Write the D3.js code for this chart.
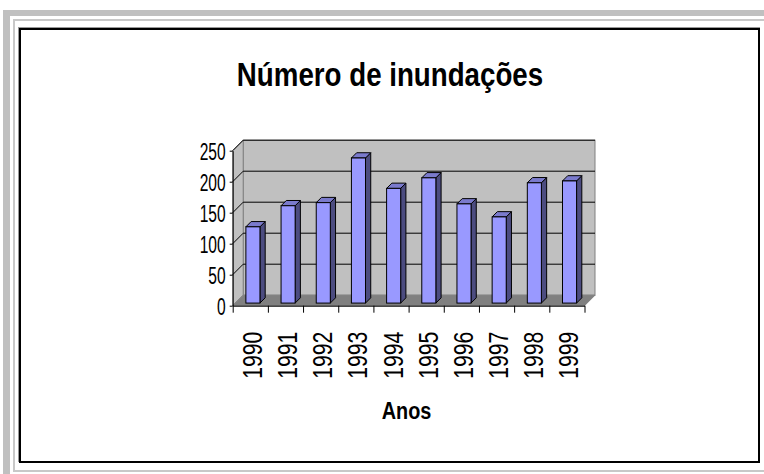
<!DOCTYPE html>
<html>
<head>
<meta charset="utf-8">
<script src="https://cdn.jsdelivr.net/npm/d3@7"></script>
<style>
  body { margin: 0; background: #fff; }
  text { font-family: "Liberation Sans", Arial, sans-serif; fill: #000; }
</style>
</head>
<body>
<svg id="chart"></svg>
<script>
// Data
const years = ["1990", "1991", "1992", "1993", "1994", "1995", "1996", "1997", "1998", "1999"];
const floods = [123, 157, 162, 234, 185, 202, 160, 139, 194, 197];
const yTicks = [0, 50, 100, 150, 200, 250];

const W = 764, H = 474;
const svg = d3.select("#chart").attr("width", W).attr("height", H);

// Page frame
svg.append("rect").attr("x", 3).attr("y", 10).attr("width", 7).attr("height", H - 10).attr("fill", "#c0c0c0");
svg.append("rect").attr("x", 3).attr("y", 10).attr("width", W - 3).attr("height", 6).attr("fill", "#c0c0c0");
svg.append("rect").attr("x", 13).attr("y", 19).attr("width", 2).attr("height", 453).attr("fill", "#c8c8c8");
svg.append("rect").attr("x", 13).attr("y", 19).attr("width", W - 13).attr("height", 2).attr("fill", "#c8c8c8");
svg.append("rect").attr("x", 13).attr("y", 470).attr("width", W - 13).attr("height", 2).attr("fill", "#c8c8c8");
svg.append("rect").attr("x", 18.5).attr("y", 27.5).attr("width", 741).attr("height", 434)
    .attr("fill", "none").attr("stroke", "#999").attr("stroke-width", 1);
svg.append("rect").attr("x", 20).attr("y", 29).attr("width", 739).attr("height", 433)
    .attr("fill", "#fff").attr("stroke", "#000").attr("stroke-width", 2);

// Condensed text helper
function label(g, x, y, txt, size, k, anchor, weight) {
  return g.append("text")
    .attr("transform", `translate(${x},${y}) scale(${k},1)`)
    .attr("text-anchor", anchor)
    .attr("font-size", size)
    .attr("font-weight", weight || "normal")
    .text(txt);
}

label(svg, 390, 86, "Número de inundações", 34, 0.815, "middle", "bold");
label(svg, 406.5, 419, "Anos", 24.5, 0.81, "middle", "bold");

// Scales
const x0 = 232.7, x1 = 584.5, D = 10.5;
const x = d3.scaleBand().domain(years).range([x0, x1]).paddingInner(0.6).paddingOuter(0.3);
const xb = d3.scaleLinear().domain([0, years.length]).range([x0, x1]);
const y = d3.scaleLinear().domain([0, 250]).range([305.7, 150.7]);
const y0 = y(0), yTop = y(250);

const plot = svg.append("g");

// Back wall
plot.append("rect")
  .attr("x", x0 + D).attr("y", yTop - D)
  .attr("width", x1 - x0).attr("height", y0 - yTop)
  .attr("fill", "#c0c0c0").attr("stroke", "#808080");
// Side wall
plot.append("polygon")
  .attr("points", [[x0, y0], [x0, yTop], [x0 + D, yTop - D], [x0 + D, y0 - D]].join(" "))
  .attr("fill", "#c0c0c0").attr("stroke", "#808080");
// Floor
plot.append("polygon")
  .attr("points", [[x0, y0], [x1, y0], [x1 + D, y0 - D], [x0 + D, y0 - D]].join(" "))
  .attr("fill", "#808080").attr("stroke", "#808080");

// Gridlines
const grid = yTicks.filter(v => v > 0);
plot.selectAll(".gback").data(grid).enter().append("line")
  .attr("x1", x0 + D).attr("x2", x1 + D)
  .attr("y1", d => y(d) - D).attr("y2", d => y(d) - D)
  .attr("stroke", "#000");
plot.selectAll(".gside").data(grid).enter().append("line")
  .attr("x1", x0).attr("x2", x0 + D)
  .attr("y1", d => y(d)).attr("y2", d => y(d) - D)
  .attr("stroke", "#000");

// Bars
const d0 = D * 0.25, dd = D * 0.5, bw = x.bandwidth();
const bars = plot.selectAll(".bar").data(years.map((yr, i) => ({yr, v: floods[i]})))
  .enter().append("g");
bars.each(function(d) {
  const g = d3.select(this);
  const xl = x(d.yr) + d0, xr = xl + bw;
  const yt = y(d.v) - d0, yb = y0 - d0;
  g.append("polygon")
    .attr("points", [[xr, yt], [xr, yb], [xr + dd, yb - dd], [xr + dd, yt - dd]].join(" "))
    .attr("fill", "#4c4c80").attr("stroke", "#000").attr("stroke-linejoin", "round");
  g.append("polygon")
    .attr("points", [[xl, yt], [xr, yt], [xr + dd, yt - dd], [xl + dd, yt - dd]].join(" "))
    .attr("fill", "#7a7acc").attr("stroke", "#000").attr("stroke-linejoin", "round");
  g.append("rect")
    .attr("x", xl).attr("y", yt).attr("width", bw).attr("height", yb - yt)
    .attr("fill", "#9999ff").attr("stroke", "#000");
});

// Y axis
const yAxis = svg.append("g")
  .attr("transform", `translate(${x0},0)`)
  .call(d3.axisLeft(y).tickValues(yTicks).tickSizeInner(3).tickSizeOuter(0).tickPadding(4));
yAxis.select(".domain").attr("stroke", "#000");
yAxis.selectAll("text")
  .attr("font-size", 24)
  .attr("dy", "0.36em")
  .attr("transform", "translate(-7,0) scale(0.65,1) translate(7,0)");

// X axis: ticks at category boundaries
const xAxis = svg.append("g")
  .attr("transform", `translate(0,${y0})`)
  .call(d3.axisBottom(xb).tickValues(d3.range(years.length + 1)).tickFormat("").tickSizeInner(7).tickSizeOuter(0));
xAxis.select(".domain").attr("stroke", "#000");

// X labels (rotated)
const kx = 0.77;
const xLab = svg.append("g")
  .attr("transform", `translate(0,${y0})`)
  .call(d3.axisBottom(x).tickSize(0).tickPadding(0));
xLab.select(".domain").remove();
xLab.selectAll("text")
  .attr("font-size", 27.5)
  .attr("text-anchor", "end")
  .attr("dy", 0)
  .attr("y", 0)
  .attr("x", 0)
  .attr("transform", `translate(11.5,26) rotate(-90) scale(${kx},1)`);
</script>
</body>
</html>
